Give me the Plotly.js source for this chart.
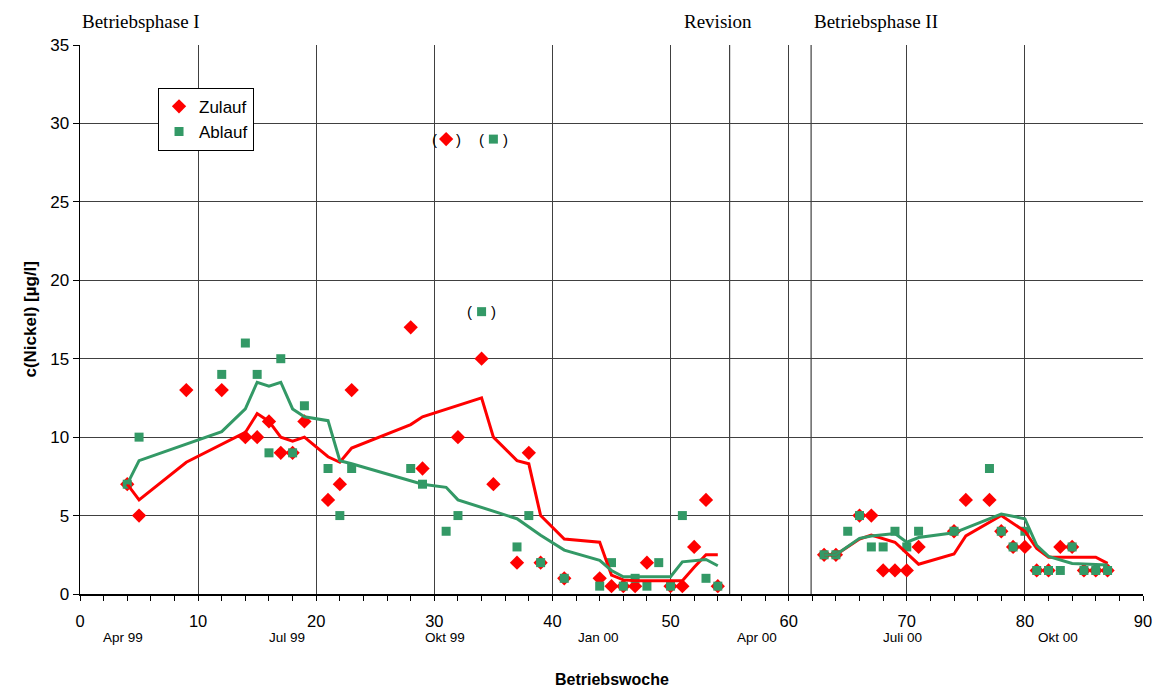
<!DOCTYPE html>
<html>
<head>
<meta charset="utf-8">
<script src="https://cdn.plot.ly/plotly-3.0.1.min.js"></script>
<style>html,body{margin:0;padding:0;background:#fff;}#chart{width:1158px;height:689px;}</style>
</head>
<body>
<div id="chart"></div>
<script>
// Zulauf (inflow) measurements
const zulaufWeek = [4,5,9,12,14,15,16,17,18,19,21,22,23,28,29,31,32,34,35,37,38,39,41,44,45,46,47,48,50,51,52,53,54,
  63,64,66,67,68,69,70,71,74,75,77,78,79,80,81,82,83,84,85,86,87];
const zulaufVal = [7,5,13,13,10,10,11,9,9,11,6,7,13,17,8,29,10,15,7,2,9,2,1,1,0.5,0.5,0.5,2,0.5,0.5,3,6,0.5,
  2.5,2.5,5,5,1.5,1.5,1.5,3,4,6,6,4,3,3,1.5,1.5,3,3,1.5,1.5,1.5];
// Ablauf (outflow) measurements
const ablaufWeek = [4,5,12,14,15,16,17,18,19,21,22,23,28,29,31,32,34,35,37,38,39,41,44,45,46,47,48,49,50,51,53,54,
  63,64,65,66,67,68,69,70,71,74,77,78,79,80,81,82,83,84,85,86,87];
const ablaufVal = [7,10,14,16,14,9,15,9,12,8,5,8,8,7,4,5,18,29,3,5,2,1,0.5,2,0.5,1,0.5,2,0.5,5,1,0.5,
  2.5,2.5,4,5,3,3,4,3,4,4,8,4,3,4,1.5,1.5,1.5,3,1.5,1.5,1.5];
// trend lines (as drawn)
const zulaufTrendWeek = [4,5,9,14,15,16,17,18,19,21,22,23,28,29,34,35,37,38,39,41,44,45,46,47,50,51,52,53,54,
  null,63,64,66,67,69,70,71,74,75,78,80,81,82,86,87];
const zulaufTrendVal = [7,6,8.4,10.3,11.5,11,10,9.75,10,8.75,8.4,9.3,10.8,11.3,12.5,10,8.5,8.3,5,3.5,3.3,1.2,0.9,0.85,0.85,0.85,1.7,2.5,2.5,
  null,2.5,2.5,3.5,3.75,3.3,2.6,1.9,2.55,3.7,5.0,4.0,2.9,2.35,2.35,1.95];
const ablaufTrendWeek = [4,5,12,14,15,16,17,18,19,21,22,23,29,31,32,37,39,41,44,45,46,47,50,51,53,54,
  null,63,64,66,67,69,70,71,74,78,80,81,82,84,87];
const ablaufTrendVal = [7,8.5,10.35,11.8,13.5,13.25,13.5,11.8,11.3,11.05,8.5,8.3,7,6.8,6,4.8,3.75,2.8,2.15,1.5,1.1,1.1,1.1,2.05,2.2,1.8,
  null,2.5,2.5,3.55,3.7,3.85,3.3,3.6,3.9,5.1,4.8,3.1,2.4,1.95,1.85];
// bracketed (outlier) values
const bracketWeek = [31,35,34];
const bracketVal = [29,29,18];
// phase separators
const phaseBreaks = [55,61.9];
const xTickVals = [0,10,20,30,40,50,60,70,80,90];
const monthPos = [3.6,17.5,30.9,43.9,57.3,69.6,82.8];
const monthLabels = ['Apr 99','Jul 99','Okt 99','Jan 00','Apr 00','Juli 00','Okt 00'];
const phaseLabels = ['Betriebsphase I','Revision','Betriebsphase II'];
const phaseLabelPos = [0,51.0,62.0];

const RED = '#FF0000', GREEN = '#339966';
const SANS = 'Arial, "Liberation Sans", sans-serif';
const SERIF = '"Times New Roman", "Liberation Serif", serif';

const traces = [
  {x: zulaufWeek, y: zulaufVal, mode: 'markers', type: 'scatter', name: 'Zulauf',
   marker: {symbol: 'diamond', size: 11, color: RED, line: {width: 0}}},
  {x: ablaufWeek, y: ablaufVal, mode: 'markers', type: 'scatter', name: 'Ablauf',
   marker: {symbol: 'square', size: 9, color: GREEN, line: {width: 0}}},
  {x: zulaufTrendWeek, y: zulaufTrendVal, mode: 'lines', type: 'scatter', showlegend: false,
   line: {color: RED, width: 3}, connectgaps: false, hoverinfo: 'skip'},
  {x: ablaufTrendWeek, y: ablaufTrendVal, mode: 'lines', type: 'scatter', showlegend: false,
   line: {color: GREEN, width: 3}, connectgaps: false, hoverinfo: 'skip'}
];

const annotations = [];
monthLabels.forEach((m, i) => annotations.push({
  x: monthPos[i], xref: 'x', y: -0.08, yref: 'paper', text: m, showarrow: false,
  font: {family: SANS, size: 13.5, color: '#000'}, xanchor: 'center', yanchor: 'middle'}));
phaseLabels.forEach((p, i) => annotations.push({
  x: phaseLabelPos[i], xref: 'x', y: 1.042, yref: 'paper', text: p, showarrow: false,
  xshift: i === 0 ? 0 : 0,
  font: {family: SERIF, size: 19, color: '#000'}, xanchor: 'left', yanchor: 'middle'}));
bracketWeek.forEach((w, i) => {
  annotations.push({x: w, y: bracketVal[i], xref: 'x', yref: 'y', text: '(', showarrow: false,
    xshift: -12, font: {family: SANS, size: 15, color: '#000'}});
  annotations.push({x: w, y: bracketVal[i], xref: 'x', yref: 'y', text: ')', showarrow: false,
    xshift: 12, font: {family: SANS, size: 15, color: '#000'}});
});
annotations.push({x: 0.5, xref: 'paper', y: -0.155, yref: 'paper', text: '<b>Betriebswoche</b>',
  showarrow: false, font: {family: SANS, size: 16, color: '#000'}, yanchor: 'middle'});
annotations.push({x: -0.047, xref: 'paper', y: 0.5, yref: 'paper', text: '<b>c(Nickel) [µg/l]</b>',
  showarrow: false, textangle: -90, font: {family: SANS, size: 17, color: '#000'}, xanchor: 'center', yanchor: 'middle'});

const shapes = phaseBreaks.map(b => ({type: 'line', xref: 'x', yref: 'paper', x0: b, x1: b, y0: 0, y1: 1,
  line: {color: '#404040', width: 1.2}, layer: 'below'}));

const layout = {
  width: 1158, height: 689,
  margin: {l: 80, r: 15, t: 45, b: 95},
  paper_bgcolor: '#fff', plot_bgcolor: '#fff',
  font: {family: SANS, color: '#000'},
  showlegend: true,
  legend: {x: 0.0734, y: 0.922, xanchor: 'left', yanchor: 'top', bgcolor: '#fff',
    bordercolor: '#000', borderwidth: 1, font: {family: SANS, size: 17, color: '#000'},
    itemwidth: 30, tracegroupgap: 2},
  xaxis: {range: [0, 90], tickvals: xTickVals, ticktext: xTickVals.map(String),
    showgrid: true, gridcolor: '#404040', gridwidth: 1,
    showline: true, linecolor: '#000', linewidth: 1.5,
    ticks: 'outside', ticklen: 5, tickcolor: '#000', tickfont: {family: SANS, size: 16.5, color: '#000'},
    ticklabelstandoff: 7,
    minor: {dtick: 2, tick0: 0, ticks: 'outside', ticklen: 5, tickcolor: '#000', showgrid: false},
    zeroline: false, fixedrange: true},
  yaxis: {range: [0, 35], dtick: 5, showgrid: true, gridcolor: '#404040', gridwidth: 1,
    showline: true, linecolor: '#000', linewidth: 1.5,
    ticks: 'outside', ticklen: 6, tickcolor: '#000', tickfont: {family: SANS, size: 17, color: '#000'},
    zeroline: false, fixedrange: true},
  annotations: annotations,
  shapes: shapes
};

Plotly.newPlot('chart', traces, layout, {displayModeBar: false, staticPlot: true});
</script>
</body>
</html>
